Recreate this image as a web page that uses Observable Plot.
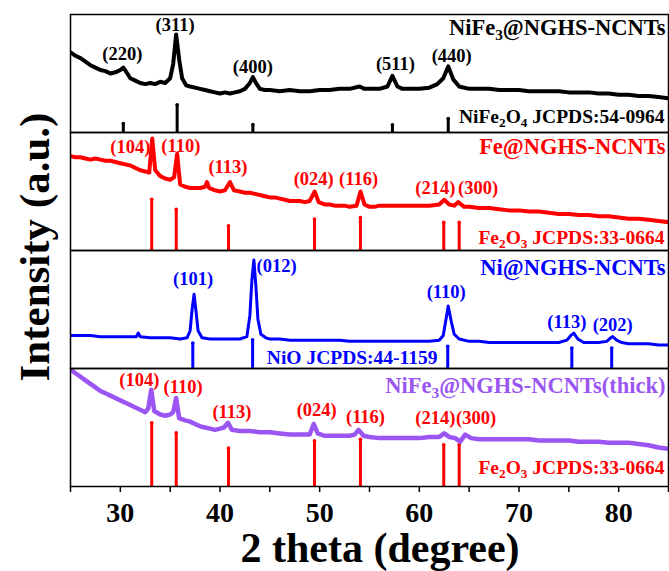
<!DOCTYPE html>
<html><head><meta charset="utf-8">
<script src="https://cdn.jsdelivr.net/npm/d3@7"></script>
<script src="https://cdn.jsdelivr.net/npm/@observablehq/plot@0.6"></script>
<style>body{margin:0;background:#fff} svg{display:block}</style>
</head><body><div id="chart"></div>
<script>
// ---- measured XRD patterns (2θ, relative intensity within each panel 0–100) ----
const nife3Curve = [[25,68],[25.5,65],[26,63],[26.5,60],[27,57],[27.5,55],[28,53],[28.5,52],[29,50],[29.5,51],[30,53],[30.3,55],[30.7,50],[31,46],[31.5,44],[32,42],[32.5,41],[33,42],[33.5,41],[34,43],[34.5,42],[35,46],[35.3,58],[35.6,83],[35.9,62],[36.2,46],[36.6,40],[37,39],[37.5,38],[38,37],[38.5,36],[39,35],[39.5,34],[40,33],[40.5,34],[41,33],[41.5,34],[42,35],[42.5,37],[43,42],[43.3,47],[43.6,42],[44,37],[44.5,36],[45,36],[46,35],[47,36],[48,35],[49,35],[50,36],[51,36],[52,37],[53,37],[54,39],[54.5,37],[55,37],[56,37],[56.8,39],[57.3,48],[57.8,39],[58.3,37],[59,37],[60,37],[61,38],[61.8,41],[62.4,46],[62.9,56],[63.4,45],[64,39],[65,37],[66,37],[67,37],[68,36],[69,36],[70,36],[71,35],[72,35],[73,35],[74,35],[75,34],[76,34],[77,34],[78,33],[79,33],[80,32],[81,32],[82,31],[83,31],[84,30],[85,29]];
const feCurve = [[25,80],[25.5,79],[26,79],[26.5,78],[27,77],[27.5,78],[28,77],[28.5,76],[29,76],[29.5,75],[30,74],[30.5,73],[31,72],[31.5,70],[32,68],[32.5,67],[32.9,66],[33.2,95],[33.5,68],[34,63],[34.5,61],[35,60],[35.4,62],[35.7,82],[36,56],[36.5,54],[37,53],[37.5,53],[38,53],[38.5,54],[38.7,58],[38.9,53],[39.5,51],[40,50],[40.5,51],[41,58],[41.4,51],[42,50],[42.5,49],[43,49],[43.5,48],[44,47],[44.5,46],[45,45],[45.5,45],[46,44],[46.5,43],[47,42],[47.5,42],[48,42],[48.5,41],[49,42],[49.5,50],[49.9,41],[50.5,39],[51,39],[51.5,38],[52,38],[52.5,38],[53,37],[53.7,38],[54.1,50],[54.5,39],[55,37],[55.5,37],[56,38],[57,38],[58,38],[59,38],[60,38],[61,38],[62,39],[62.5,43],[63,39],[63.5,38],[63.9,41],[64.5,37],[65,37],[66,36],[67,36],[68,35],[69,34],[70,34],[71,33],[72,33],[73,32],[74,31],[75,31],[76,30],[77,30],[78,29],[79,29],[80,28],[81,27],[82,27],[83,26],[84,25],[85,24]];
const niCurve = [[25,28],[26,28],[27,28],[28,27],[29,27],[30,27],[31,27],[31.6,27],[31.8,30],[32,27],[33,26],[34,26],[35,26],[36,25],[36.7,26],[37.0,32],[37.2,50],[37.4,63],[37.6,48],[37.8,32],[38.2,26],[39,25],[40,25],[41,25],[42,25],[42.7,27],[43.0,45],[43.2,75],[43.4,92],[43.6,70],[43.8,42],[44.1,29],[44.6,26],[45,25],[46,25],[47,24],[48,24],[49,24],[50,24],[51,24],[52,24],[53,23],[54,23],[55,23],[56,23],[57,23],[58,23],[59,23],[60,23],[61,23],[62,24],[62.4,28],[62.6,38],[62.9,53],[63.2,40],[63.5,29],[64,25],[65,23],[66,23],[67,22],[68,22],[69,22],[70,22],[71,22],[72,22],[73,22],[74,22],[74.8,24],[75.2,28],[75.5,30],[75.9,25],[76.5,22],[77,22],[78,22],[78.8,23],[79.2,26],[79.4,27],[79.8,24],[80.3,22],[81,21],[82,21],[83,21],[84,20],[85,20]];
const thickCurve = [[25,99],[25.5,96],[26,93],[26.5,90],[27,87],[27.5,84],[28,81],[28.5,79],[29,77],[29.5,75],[30,73],[30.5,71],[31,69],[31.5,67],[32,65],[32.5,63],[32.8,66],[33.1,82],[33.4,64],[34,61],[34.5,60],[35,61],[35.3,63],[35.6,75],[35.9,58],[36.5,56],[37,55],[37.5,53],[38,51],[38.5,50],[39,49],[39.5,48],[40,49],[40.4,50],[40.8,54],[41.2,48],[42,47],[43,47],[44,46],[45,46],[46,45],[47,44],[48,44],[49,44],[49.4,53],[49.8,45],[50.5,43],[51,43],[52,43],[53,43],[53.5,44],[53.9,48],[54.4,43],[55,42],[56,41],[57,41],[58,41],[59,41],[60,41],[61,42],[62,42],[62.5,45],[63,42],[63.6,41],[64.1,38],[64.6,44],[65.2,41],[66,40],[67,40],[68,40],[69,40],[70,40],[71,40],[72,39],[73,39],[74,39],[75,39],[76,38],[77,38],[78,38],[79,37],[80,37],[81,37],[82,36],[83,35],[84,33],[85,32]];

// ---- reference (JCPDS) stick positions and heights ----
const nife2o4Pos = [30.3, 35.7, 43.3, 57.3, 62.9];
const nife2o4H   = [7.6, 23.5, 6.7, 6.5, 11.8];
const fe2o3Pos   = [33.15, 35.61, 40.85, 49.48, 54.09, 62.45, 64.0];
const fe2o3H_fe  = [43.4, 35, 21, 26.6, 28, 23.8, 23.8];
const fe2o3H_thk = [54, 45.6, 32.5, 38.7, 40, 35.3, 35.3];
const nioPos     = [37.27, 43.27, 62.85, 75.3, 79.3];
const nioH       = [21.6, 24.4, 18.8, 17.4, 17.4];

// ---- panel names, colours, reference labels ----
const panelIds    = [1, 2, 3, 4];
const sampleNames = ["NiFe_3@NGHS-NCNTs", "Fe@NGHS-NCNTs", "Ni@NGHS-NCNTs", "NiFe_3@NGHS-NCNTs(thick)"];
const sampleColors = ["#000000", "#ff0000", "#0000ff", "#9b55f2"];
const sampleNameY = [82.4, 81.5, 79, 79.2];
const refNames = ["NiFe_2O_4 JCPDS:54-0964", "Fe_2O_3 JCPDS:33-0664", "NiO JCPDS:44-1159", "Fe_2O_3 JCPDS:33-0664"];
const refColors = ["#000000", "#ff0000", "#0000ff", "#ff0000"];
const refY = [7.8, 5.6, 3.9, 10.7];

// ---- Miller-index labels: [panel, text, 2θ, intensity] ----
const hklLabels = [
  [1,"(220)",30.2,61.3],[1,"(311)",35.5,85.7],[1,"(400)",43.3,50.4],[1,"(511)",57.6,52.9],[1,"(440)",63.25,59.7],
  [2,"(104)",31.0,82.6],[2,"(110)",36.07,83.2],[2,"(113)",40.8,65.8],[2,"(024)",49.4,55.2],[2,"(116)",53.9,55.2],[2,"(214)",61.6,47.6],[2,"(300)",65.9,47.6],
  [3,"(101)",37.3,70.6],[3,"(012)",45.67,81.8],[3,"(110)",62.7,59.4],[3,"(113)",74.8,34.2],[3,"(202)",79.4,31.9],
  [4,"(104)",31.9,84.9],[4,"(110)",36.3,79.2],[4,"(113)",41.2,58.2],[4,"(024)",49.7,59.7],[4,"(116)",54.6,54.0],[4,"(214)",61.6,52.7],[4,"(300)",65.7,52.7]
];
const hklColors = {1:"#000000", 2:"#ff0000", 3:"#0000ff", 4:"#ff0000"};

const xTicks = d3.range(25, 86, 5);

// ---- build tables ----
const curves = [nife3Curve, feCurve, niCurve, thickCurve].flatMap((c, i) =>
  c.map(([x, y]) => ({panel: panelIds[i], x, y, c: sampleColors[i]})));
const sticks = [
  ...nife2o4Pos.map((x, i) => ({panel: 1, x, h: nife2o4H[i], c: "#000000"})),
  ...fe2o3Pos.map((x, i) => ({panel: 2, x, h: fe2o3H_fe[i], c: "#ff0000"})),
  ...nioPos.map((x, i) => ({panel: 3, x, h: nioH[i], c: "#0000ff"})),
  ...fe2o3Pos.map((x, i) => ({panel: 4, x, h: fe2o3H_thk[i], c: "#ff0000"}))
];
const titles = panelIds.map((p, i) => ({panel: p, y: sampleNameY[i], text: sampleNames[i], c: sampleColors[i]}));
const refs = panelIds.map((p, i) => ({panel: p, y: refY[i], text: refNames[i], c: refColors[i]}));
const refsRight = refs.filter(d => d.panel !== 3);
const refsLeft = refs.filter(d => d.panel === 3).map(d => ({...d, x: 44.7}));
const hkl = hklLabels.map(([panel, text, x, y]) => ({panel, text, x, y, c: hklColors[panel]}));

const FONT = "Liberation Serif";
const widths = {1: 4, 2: 4, 3: 3, 4: 4.5};

const chart = Plot.plot({
  width: 669, height: 571,
  marginLeft: 70, marginRight: 1, marginTop: 12, marginBottom: 84,
  style: {fontFamily: FONT, background: "#fff"},
  x: {domain: [25, 85]},
  y: {domain: [0, 100], axis: null},
  fy: {domain: panelIds, axis: null, padding: 0},
  color: {type: "identity"},
  marks: [
    Plot.ruleX(sticks, {x: "x", y1: () => 0, y2: "h", fy: "panel", stroke: "c", strokeWidth: 3}),
    Plot.dot(sticks, {x: "x", y: "h", fy: "panel", fill: "c", r: 1.8}),
    ...panelIds.map(p => Plot.line(curves.filter(d => d.panel === p), {x: "x", y: "y", fy: "panel", stroke: "c", strokeWidth: widths[p], strokeLinejoin: "round", clip: true})),
    Plot.text(hkl, {x: "x", y: "y", fy: "panel", text: "text", fill: "c", fontSize: 18.5, fontWeight: "bold", fontFamily: FONT, textAnchor: "middle", lineAnchor: "bottom"}),
    Plot.text(titles, {frameAnchor: "right", y: "y", fy: "panel", text: "text", fill: "c", fontSize: 22.5, fontWeight: "bold", fontFamily: FONT, textAnchor: "end", lineAnchor: "bottom", dx: -3}),
    Plot.text(refsRight, {frameAnchor: "right", y: "y", fy: "panel", text: "text", fill: "c", fontSize: 19.5, fontWeight: "bold", fontFamily: FONT, textAnchor: "end", lineAnchor: "bottom", dx: -4}),
    Plot.text(refsLeft, {x: "x", y: "y", fy: "panel", text: "text", fill: "c", fontSize: 19.5, fontWeight: "bold", fontFamily: FONT, textAnchor: "start", lineAnchor: "bottom"}),
    Plot.frame({stroke: "#000", strokeWidth: 1.5}),
    Plot.axisX({ticks: xTicks, tickFormat: d => d % 10 === 0 ? String(d) : "", tickSize: 6, tickPadding: 10, strokeWidth: 1.5, fontSize: 28, fontWeight: "bold", fontFamily: FONT, label: null, fill: "#000"})
  ]
});

// subscripts: "_3" -> subscript tspan
const NS = "http://www.w3.org/2000/svg";
chart.querySelectorAll("text").forEach(t => {
  const s = t.textContent;
  if (!s.includes("_")) return;
  const parts = s.split(/_(\d)/);
  t.textContent = "";
  parts.forEach((p, i) => {
    if (!p) return;
    const ts = document.createElementNS(NS, "tspan");
    ts.textContent = p;
    if (i % 2 === 1) {
      ts.setAttribute("font-size", "68%");
      ts.setAttribute("dy", "0.3em");
    } else if (i > 0) {
      ts.setAttribute("dy", "-0.204em");
    }
    t.appendChild(ts);
  });
});

// axis titles
const svg = d3.select(chart);
svg.append("text")
  .attr("transform", "translate(49,247) rotate(-90)")
  .attr("text-anchor", "middle")
  .attr("font-family", FONT).attr("font-weight", "bold").attr("font-size", 43)
  .attr("fill", "#000")
  .text("Intensity (a.u.)");
svg.append("text")
  .attr("x", 380).attr("y", 562)
  .attr("text-anchor", "middle")
  .attr("font-family", FONT).attr("font-weight", "bold").attr("font-size", 42)
  .attr("fill", "#000")
  .text("2 theta (degree)");

document.getElementById("chart").appendChild(chart);
</script>
</body></html>
